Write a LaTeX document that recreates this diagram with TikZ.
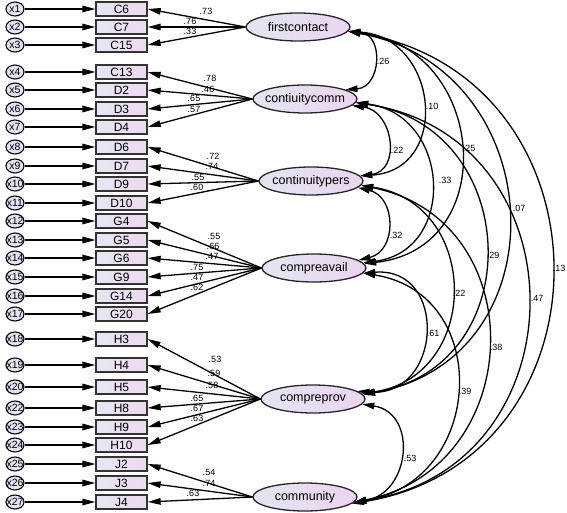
\documentclass[tikz,border=0pt]{standalone}
\usepackage{fontspec}
\setmainfont{Liberation Sans}
\usetikzlibrary{arrows.meta,shapes.geometric}
\definecolor{boxL}{RGB}{228,231,240}
\definecolor{boxR}{RGB}{238,218,240}
\definecolor{latL}{RGB}{226,230,240}
\definecolor{latR}{RGB}{236,212,240}
\definecolor{errfill}{RGB}{232,224,242}
\newcommand\zbox[1]{\makebox[0pt]{#1}}
\begin{document}
\begin{tikzpicture}[x=1pt,y=-1pt,
  err/.style={ellipse, draw=black, line width=1.1pt, fill=errfill, minimum width=18pt, minimum height=14pt, inner sep=0pt, font=\fontsize{10.5}{10.5}\selectfont},
  obs/.style={rectangle, draw=black!80, line width=1.3pt, left color=boxL, right color=boxR, minimum width=51pt, minimum height=14pt, inner sep=0pt, font=\fontsize{12}{12}\selectfont},
  lat/.style={ellipse, draw=black!85, line width=1.3pt, left color=latL, right color=latR, minimum width=104pt, minimum height=28pt, inner sep=0pt, font=\fontsize{12.5}{12.5}\selectfont},
  arr/.style={-{Triangle[length=13pt,width=6.5pt]}, line width=1.3pt},
  cov/.style={{Triangle[length=12pt,width=6.5pt]}-{Triangle[length=12pt,width=6.5pt]}, line width=1.3pt},
  lab/.style={inner sep=0pt, font=\fontsize{9}{9}\selectfont}
]
\useasboundingbox (0,0) rectangle (567,513);

% error terms, indicators
\foreach \i/\e/\b/\y in {1/x1/C6/9, 2/x2/C7/27, 3/x3/C15/45, 4/x4/C13/72, 5/x5/D2/90, 6/x6/D3/109, 7/x7/D4/127,
  8/x8/D6/147, 9/x9/D7/166, 10/x10/D9/184, 11/x11/D10/203, 12/x12/G4/221, 13/x13/G5/240, 14/x14/G6/258,
  15/x15/G9/277, 16/x16/G14/296, 17/x17/G20/314, 18/x18/H3/339, 19/x19/H4/365, 20/x20/H5/387,
  21/x22/H8/408, 22/x23/H9/427, 23/x24/H10/445, 24/x25/J2/464, 25/x26/J3/483, 26/x27/J4/502}{
  \node[err] (e\i) at (15,\y) {\zbox{\e}};
  \node[obs] (b\i) at (121.5,\y) {\b};
  \draw[arr] (e\i) -- (b\i);
}

% latent variables
\node[lat] (fc) at (298,27) {\zbox{firstcontact}};
\node[lat] (cc) at (305,99) {\zbox{contiuitycomm}};
\node[lat] (cp) at (311,181) {\zbox{continuitypers}};
\node[lat] (ca) at (314,268) {\zbox{compreavail}};
\node[lat] (cr) at (313,399) {\zbox{compreprov}};
\node[lat] (cy) at (305,497) {\zbox{community}};

% loadings
\foreach \i in {1,2,3} {\draw[arr] (fc.west) -- (b\i.east);}
\foreach \i in {4,...,7} {\draw[arr] (cc.west) -- (b\i.east);}
\foreach \i in {8,...,11} {\draw[arr] (cp.west) -- (b\i.east);}
\foreach \i in {12,...,17} {\draw[arr] (ca.west) -- (b\i.east);}
\foreach \i in {18,...,23} {\draw[arr] (cr.west) -- (b\i.east);}
\foreach \i in {24,25,26} {\draw[arr] (cy.west) -- (b\i.east);}

% loading labels
\foreach \i/\v/\x/\y in {1/.73/206/11, 2/.76/190/21, 3/.33/190/31,
  4/.78/210/78, 5/.46/208/89, 6/.65/194/98, 7/.57/194/109,
  8/.72/213/156, 9/.74/212/166, 10/.55/198/177, 11/.60/197/187,
  12/.55/214/236, 13/.66/213/246, 14/.47/212/256, 15/.75/197/267, 16/.47/197/277, 17/.62/197/287,
  18/.53/215/359, 19/.59/214/373, 20/.58/212/385, 21/.65/197/398, 22/.67/197/408, 23/.63/197/418,
  24/.54/209/472, 25/.74/209/483, 26/.63/193/493}{
  \node[lab] (l\i) at (\x,\y) {\v};
}

% covariances
\draw[cov] (fc.-5) .. controls +(35.9,2.5) and +(35.9,-2.5) .. (cc.13);
\draw[cov] (fc.-5) .. controls +(90.8,5.7) and +(90.8,-5.7) .. (cp.6);
\draw[cov] (fc.-5) .. controls +(138.7,15.1) and +(138.7,-15.1) .. (ca.5);
\draw[cov] (fc.-5) .. controls +(202.7,36.5) and +(202.7,-36.5) .. (cr.5);
\draw[cov] (fc.-5) .. controls +(268.1,43.4) and +(268.1,-43.4) .. (cy.-8);
\draw[cov] (cc.-8) .. controls +(41.3,5.1) and +(41.3,-5.1) .. (cp.6);
\draw[cov] (cc.-4) .. controls +(94.6,11.9) and +(94.6,-11.9) .. (ca.6);
\draw[cov] (cc.-4) .. controls +(168.1,24.8) and +(168.1,-24.8) .. (cr.6);
\draw[cov] (cc.-4) .. controls +(229.4,34.8) and +(229.4,-34.8) .. (cy.-6);
\draw[cov] (cp.-8) .. controls +(38.6,9.2) and +(38.6,-9.2) .. (ca.10);
\draw[cov] (cp.-5) .. controls +(119.7,18.2) and +(119.7,-18.2) .. (cr.6);
\draw[cov] (cp.-5) .. controls +(173.3,34.6) and +(173.3,-34.6) .. (cy.-6);
\draw[cov] (ca.-6) .. controls +(85.3,-6.9) and +(85.3,6.9) .. (cr.10);
\draw[cov] (ca.-6) .. controls +(130.4,20.5) and +(130.4,-20.5) .. (cy.-6);
\draw[cov] (cr.-6) .. controls +(56.0,8.7) and +(56.0,-8.7) .. (cy.-6);

% covariance labels
\foreach \n/\v/\x/\y in {k1/.26/383/61, k2/.10/432/106, k3/.25/469/148, k4/.07/519/208, k5/.13/559/268,
  k6/.22/397/150, k7/.33/445/180, k8/.29/493/255, k9/.47/537/298,
  k10/.32/396/235, k11/.22/459/293, k12/.38/496/347,
  k13/.61/433/333, k14/.39/465/391, k15/.53/410/458}{
  \node[lab] (\n) at (\x,\y) {\v};
}
\end{tikzpicture}
\end{document}
